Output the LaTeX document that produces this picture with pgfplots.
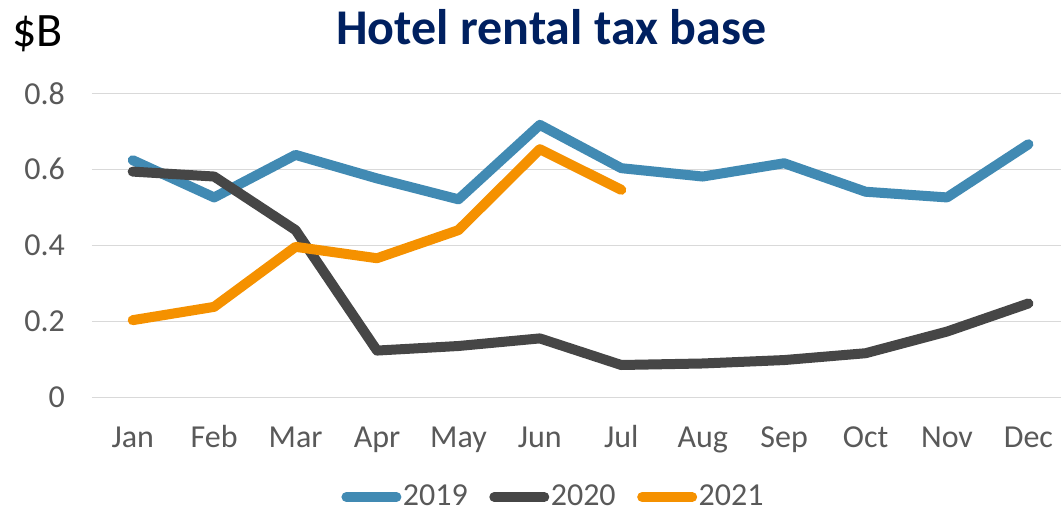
\documentclass[border=0pt]{standalone}
\usepackage{fontspec}
\setmainfont{Carlito}
\usepackage{pgfplots}
\pgfplotsset{compat=1.18}
\definecolor{c19}{HTML}{418AB3}
\definecolor{c20}{HTML}{464646}
\definecolor{c21}{HTML}{F59100}
\definecolor{tickgrey}{HTML}{595959}
\definecolor{gridgrey}{HTML}{D9D9D9}
\definecolor{navy}{HTML}{002060}
\begin{document}
\begin{tikzpicture}
\useasboundingbox (0,0) rectangle (530.5pt,257.5pt);
\begin{axis}[
  at={(46pt,58.85pt)}, anchor=south west,
  scale only axis, width=484.5pt, height=152pt,
  xmin=-0.5, xmax=11.4, ymin=0, ymax=0.8,
  clip=false,
  axis line style={draw=none},
  major tick length=0pt,
  xtick={0,...,11},
  xticklabels={Jan,Feb,Mar,Apr,May,Jun,Jul,Aug,Sep,Oct,Nov,Dec},
  ytick={0,0.2,0.4,0.6,0.8},
  yticklabels={0,0.2,0.4,0.6,0.8},
  ymajorgrids, grid style={gridgrey, line width=0.75pt},
  tick label style={font=\fontsize{16}{19}\selectfont, text=tickgrey},
  xticklabel style={anchor=base, yshift=-25.3pt},
  yticklabel style={xshift=-10pt},
  /pgf/number format/assume math mode=true,
  legend columns=3,
  legend style={draw=none, fill=none, at={(rel axis cs:0.476,-0.328)}, anchor=center,
    font=\fontsize{16}{19}\selectfont, text=tickgrey,
    nodes={inner sep=0.75pt},
    /tikz/every even column/.append style={column sep=10pt},
    inner sep=0pt},
  legend image code/.code={\draw[#1, line cap=round] (2.5pt,0pt) -- (27.5pt,0pt);},
  every axis plot/.append style={line width=5pt, line join=round, line cap=round},
]
\addplot[c19] coordinates {(0,0.624) (1,0.526) (2,0.638) (3,0.576) (4,0.521) (5,0.717) (6,0.603) (7,0.581) (8,0.616) (9,0.541) (10,0.526) (11,0.666)};
\addlegendentry{2019}
\addplot[c20] coordinates {(0,0.594) (1,0.581) (2,0.440) (3,0.123) (4,0.135) (5,0.155) (6,0.085) (7,0.089) (8,0.098) (9,0.116) (10,0.173) (11,0.247)};
\addlegendentry{2020}
\addplot[c21] coordinates {(0,0.203) (1,0.238) (2,0.396) (3,0.366) (4,0.440) (5,0.653) (6,0.546)};
\addlegendentry{2021}
\node[anchor=base, font=\fontsize{25}{30}\selectfont\bfseries, text=navy] at (rel axis cs:0.474,1.159) {Hotel rental tax base};
\node[anchor=base west, font=\fontsize{24}{28}\selectfont, inner sep=0pt] at (rel axis cs:-0.0826,1.155) {\$B};
\end{axis}
\end{tikzpicture}
\end{document}
